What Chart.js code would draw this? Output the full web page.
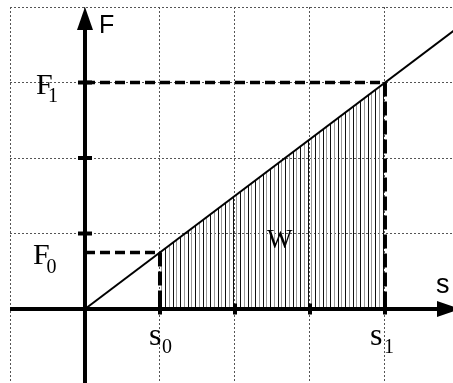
<!DOCTYPE html>
<html>
<head>
<meta charset="utf-8">
<script src="https://cdn.jsdelivr.net/npm/chart.js@4"></script>
<style>
  html, body { margin: 0; padding: 0; background: #fff; }
  canvas { display: block; }
</style>
</head>
<body>
<canvas id="c" width="453" height="383"></canvas>
<script>
// ---- data ----
const sMarks = [1, 4];          // s0, s1
const fMarks = [0.75, 3];       // F0, F1
const lineS = [0, 5];           // F(s) line end points
const lineF = [0, 3.75];
const tickS = [1, 2, 3, 4];     // tick marks on s axis
const tickF = [1, 2, 3];        // tick marks on F axis
const axisS = [-1, 5];          // s axis extent (arrow tip at end)
const axisF = [-1, 4];          // F axis extent (arrow tip at end)
const sRange = [-1, 4.907];
const fRange = [-0.98, 4];
const subNames = ['0', '1'];

function hatchPattern() {
  const c = document.createElement('canvas');
  c.width = 15; c.height = 4;
  const g = c.getContext('2d');
  g.fillStyle = '#111';
  g.fillRect(0, 0, 1, 4); g.fillRect(8, 0, 1, 4);
  g.fillStyle = '#9a9a9a';
  g.fillRect(4, 0, 1, 4); g.fillRect(11, 0, 1, 4);
  return g.createPattern(c, 'repeat');
}

const pts = (xs, ys) => xs.map((x, i) => ({ x: x, y: ys[i] }));

const datasets = [
  { // hatched work area
    data: pts(sMarks, fMarks), showLine: true, fill: 'origin',
    backgroundColor: hatchPattern(), borderWidth: 0, pointRadius: 0, order: 5
  },
  { // F(s) line
    data: pts(lineS, lineF), showLine: true, borderColor: '#000',
    borderWidth: 2, pointRadius: 0, fill: false, order: 4
  }
];
// dashed guides for F0, F1
fMarks.forEach((f, i) => {
  datasets.push({
    data: [{ x: 0, y: f }, { x: sMarks[i], y: f }], showLine: true,
    borderColor: '#000', borderWidth: 3.5, borderDash: [10, 5],
    pointRadius: 0, fill: false, order: 3
  });
  datasets.push({
    data: [{ x: sMarks[i], y: f }, { x: sMarks[i], y: 0 }], showLine: true,
    borderColor: '#000', borderWidth: 4, borderDash: [14, 5],
    pointRadius: 0, fill: false, order: 3
  });
});
// tick marks
datasets.push({
  data: tickS.map(s => ({ x: s, y: 0 })), showLine: false,
  pointStyle: 'line', pointRotation: 90, pointRadius: 5.5,
  borderWidth: 4, borderColor: '#000', order: 1
});
datasets.push({
  data: tickF.map(f => ({ x: 0, y: f })), showLine: false,
  pointStyle: 'line', pointRotation: 0, pointRadius: 7,
  borderWidth: 4, borderColor: '#000', order: 1
});

const gridColor = ctx => Number.isInteger(ctx.tick && ctx.tick.value) ? '#555' : 'rgba(0,0,0,0)';

const diagram = {
  id: 'diagram',
  afterDatasetsDraw(chart) {
    const ctx = chart.ctx;
    const xs = chart.scales.x, ys = chart.scales.y;
    const X0 = xs.getPixelForValue(0), Y0 = ys.getPixelForValue(0);
    const xl = xs.getPixelForValue(axisS[0]), xr = xs.getPixelForValue(axisS[1]);
    const yb = ys.getPixelForValue(axisF[0]), yt = ys.getPixelForValue(axisF[1]);
    const L = 23, H = 8;
    ctx.save();
    ctx.strokeStyle = '#000'; ctx.fillStyle = '#000'; ctx.lineWidth = 4;
    ctx.beginPath(); ctx.moveTo(xl, Y0); ctx.lineTo(xr - L + 1, Y0); ctx.stroke();
    ctx.beginPath(); ctx.moveTo(X0, yb); ctx.lineTo(X0, yt + L - 1); ctx.stroke();
    ctx.beginPath(); ctx.moveTo(xr, Y0); ctx.lineTo(xr - L, Y0 - H); ctx.lineTo(xr - L, Y0 + H); ctx.closePath(); ctx.fill();
    ctx.beginPath(); ctx.moveTo(X0, yt); ctx.lineTo(X0 - H, yt + L); ctx.lineTo(X0 + H, yt + L); ctx.closePath(); ctx.fill();

    // labels
    ctx.textAlign = 'left'; ctx.textBaseline = 'alphabetic';
    const sans = 'Liberation Sans, Arial, sans-serif';
    const serif = 'Liberation Serif, Times New Roman, serif';
    ctx.font = '25px ' + sans;
    ctx.fillText('F', X0 + 14, yt + 26);
    ctx.font = '27px ' + sans;
    ctx.fillText('s', xr - 24, Y0 - 16);

    const yF = fMarks.map(f => ys.getPixelForValue(f));
    const xS = sMarks.map(s => xs.getPixelForValue(s));
    // F0, F1
    const fOff = [-52, -49], fBase = [12, 11], subOffX = [-38.5, -37], subBase = [21, 19];
    for (let i = 0; i < 2; i++) {
      ctx.font = '30px ' + serif;
      ctx.fillText('F', X0 + fOff[i], yF[i] + fBase[i]);
      ctx.font = '20px ' + serif;
      ctx.fillText(subNames[i], X0 + subOffX[i], yF[i] + subBase[i]);
    }
    // s0, s1
    const sOff = [-11, -15], sSub = [2, -1];
    for (let i = 0; i < 2; i++) {
      ctx.font = '32px ' + serif;
      ctx.fillText('s', xS[i] + sOff[i], Y0 + 36);
      ctx.font = '20px ' + serif;
      ctx.fillText(subNames[i], xS[i] + sSub[i], Y0 + 44);
    }
    // W
    ctx.font = '27px ' + serif;
    ctx.fillText('W', xS[0] + 107, Y0 - 61);
    ctx.restore();
  }
};

new Chart(document.getElementById('c'), {
  type: 'scatter',
  data: { datasets: datasets },
  options: {
    responsive: false,
    animation: false,
    events: [],
    layout: { autoPadding: false, padding: { left: 10, top: 7, right: 0, bottom: 0 } },
    plugins: { legend: { display: false }, tooltip: { enabled: false } },
    scales: {
      x: {
        type: 'linear', min: sRange[0], max: sRange[1],
        ticks: { display: false, stepSize: 1, includeBounds: false },
        grid: { color: gridColor, drawTicks: false, lineWidth: 1 },
        border: { display: false, dash: [2, 2] }
      },
      y: {
        type: 'linear', min: fRange[0], max: fRange[1],
        ticks: { display: false, stepSize: 1, includeBounds: false },
        grid: { color: gridColor, drawTicks: false, lineWidth: 1 },
        border: { display: false, dash: [2, 2] }
      }
    }
  },
  plugins: [diagram]
});
</script>
</body>
</html>
